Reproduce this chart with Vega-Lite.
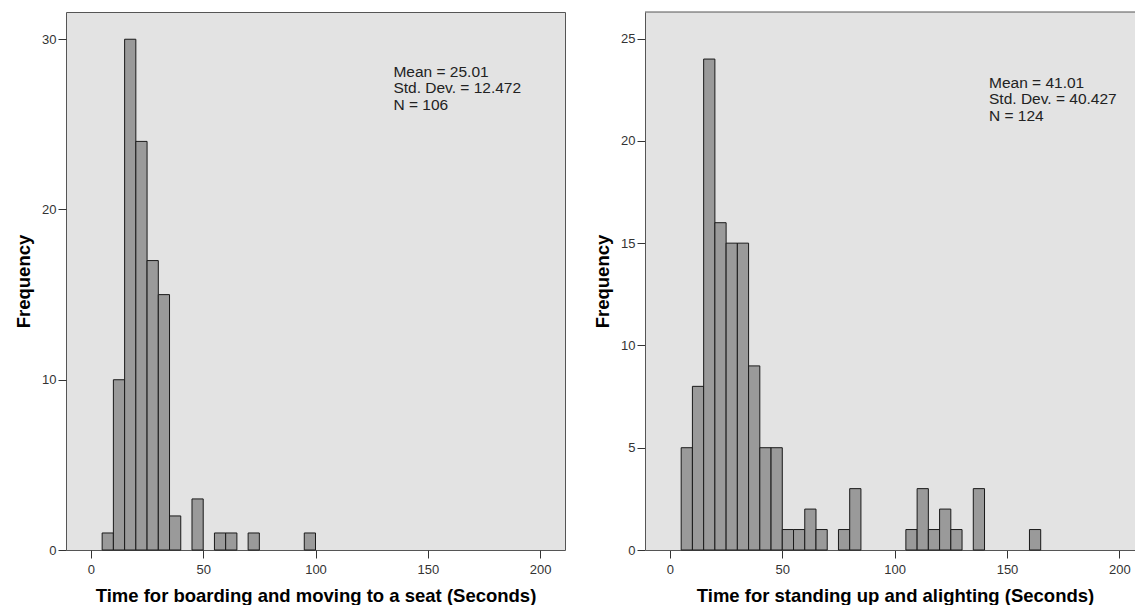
{
  "$schema": "https://vega.github.io/schema/vega-lite/v6.json",
  "background": "white",
  "padding": {"left": 14, "top": 11, "right": 0, "bottom": 0},
  "bounds": "flush",
  "spacing": 80,
  "config": {
    "font": "Liberation Sans",
    "view": {"fill": "#e3e3e3", "stroke": "#555555", "strokeWidth": 1},
    "axis": {
      "grid": false,
      "domain": false,
      "tickColor": "#333333",
      "tickSize": 8,
      "labelFont": "Liberation Sans",
      "labelFontSize": 13,
      "labelColor": "#333333",
      "titleFont": "Liberation Sans",
      "titleFontSize": 18.5,
      "titleFontWeight": "bold",
      "titleColor": "#000000"
    },
    "axisX": {"labelPadding": 5, "titlePadding": 10},
    "axisY": {"labelPadding": 2, "titlePadding": 8}
  },
  "datasets": {
    "boarding": [
      {"bin_start": 5, "bin_end": 10, "frequency": 1},
      {"bin_start": 10, "bin_end": 15, "frequency": 10},
      {"bin_start": 15, "bin_end": 20, "frequency": 30},
      {"bin_start": 20, "bin_end": 25, "frequency": 24},
      {"bin_start": 25, "bin_end": 30, "frequency": 17},
      {"bin_start": 30, "bin_end": 35, "frequency": 15},
      {"bin_start": 35, "bin_end": 40, "frequency": 2},
      {"bin_start": 45, "bin_end": 50, "frequency": 3},
      {"bin_start": 55, "bin_end": 60, "frequency": 1},
      {"bin_start": 60, "bin_end": 65, "frequency": 1},
      {"bin_start": 70, "bin_end": 75, "frequency": 1},
      {"bin_start": 95, "bin_end": 100, "frequency": 1}
    ],
    "alighting": [
      {"bin_start": 5, "bin_end": 10, "frequency": 5},
      {"bin_start": 10, "bin_end": 15, "frequency": 8},
      {"bin_start": 15, "bin_end": 20, "frequency": 24},
      {"bin_start": 20, "bin_end": 25, "frequency": 16},
      {"bin_start": 25, "bin_end": 30, "frequency": 15},
      {"bin_start": 30, "bin_end": 35, "frequency": 15},
      {"bin_start": 35, "bin_end": 40, "frequency": 9},
      {"bin_start": 40, "bin_end": 45, "frequency": 5},
      {"bin_start": 45, "bin_end": 50, "frequency": 5},
      {"bin_start": 50, "bin_end": 55, "frequency": 1},
      {"bin_start": 55, "bin_end": 60, "frequency": 1},
      {"bin_start": 60, "bin_end": 65, "frequency": 2},
      {"bin_start": 65, "bin_end": 70, "frequency": 1},
      {"bin_start": 75, "bin_end": 80, "frequency": 1},
      {"bin_start": 80, "bin_end": 85, "frequency": 3},
      {"bin_start": 105, "bin_end": 110, "frequency": 1},
      {"bin_start": 110, "bin_end": 115, "frequency": 3},
      {"bin_start": 115, "bin_end": 120, "frequency": 1},
      {"bin_start": 120, "bin_end": 125, "frequency": 2},
      {"bin_start": 125, "bin_end": 130, "frequency": 1},
      {"bin_start": 135, "bin_end": 140, "frequency": 3},
      {"bin_start": 160, "bin_end": 165, "frequency": 1}
    ]
  },
  "hconcat": [
    {
      "width": 499,
      "height": 538,
      "layer": [
        {
          "data": {"name": "boarding"},
          "mark": {"type": "bar", "fill": "#9a9a9a", "stroke": "#1a1a1a", "strokeWidth": 1},
          "encoding": {
            "x": {
              "field": "bin_start", "type": "quantitative",
              "scale": {"domain": [-11.1, 211.1], "nice": false, "zero": false},
              "axis": {"values": [0, 50, 100, 150, 200], "title": "Time for boarding and moving to a seat (Seconds)"}
            },
            "x2": {"field": "bin_end"},
            "y": {
              "field": "frequency", "type": "quantitative",
              "scale": {"domain": [0, 31.6], "nice": false},
              "axis": {"values": [0, 10, 20, 30], "title": "Frequency"}
            },
            "y2": {"datum": 0}
          }
        },
        {
          "data": {"values": [{}]},
          "mark": {"type": "text", "align": "left", "baseline": "top", "fontSize": 15.5, "lineHeight": 16.5, "color": "#222222", "text": ["Mean = 25.01", "Std. Dev. = 12.472", "N = 106"]},
          "encoding": {"x": {"datum": 134.7}, "y": {"datum": 28.5}}
        }
      ]
    },
    {
      "width": 490,
      "height": 538,
      "view": {"stroke": null},
      "layer": [
        {
          "data": {"name": "alighting"},
          "mark": {"type": "bar", "fill": "#9a9a9a", "stroke": "#1a1a1a", "strokeWidth": 1},
          "encoding": {
            "x": {
              "field": "bin_start", "type": "quantitative",
              "scale": {"domain": [-11.1, 206.97], "nice": false, "zero": false},
              "axis": {"values": [0, 50, 100, 150, 200], "title": "Time for standing up and alighting (Seconds)", "domain": true, "domainColor": "#555555", "titleX": 250}
            },
            "x2": {"field": "bin_end"},
            "y": {
              "field": "frequency", "type": "quantitative",
              "scale": {"domain": [0, 26.3], "nice": false},
              "axis": {"values": [0, 5, 10, 15, 20, 25], "title": "Frequency", "domain": true, "domainColor": "#555555"}
            },
            "y2": {"datum": 0}
          }
        },
        {
          "data": {"values": [{}]},
          "mark": {"type": "rule", "color": "#555555", "strokeWidth": 1},
          "encoding": {"y": {"datum": 26.3}}
        },
        {
          "data": {"values": [{}]},
          "mark": {"type": "text", "align": "left", "baseline": "top", "fontSize": 15.5, "lineHeight": 16.5, "color": "#222222", "text": ["Mean = 41.01", "Std. Dev. = 40.427", "N = 124"]},
          "encoding": {"x": {"datum": 142.0}, "y": {"datum": 23.19}}
        }
      ]
    }
  ]
}
